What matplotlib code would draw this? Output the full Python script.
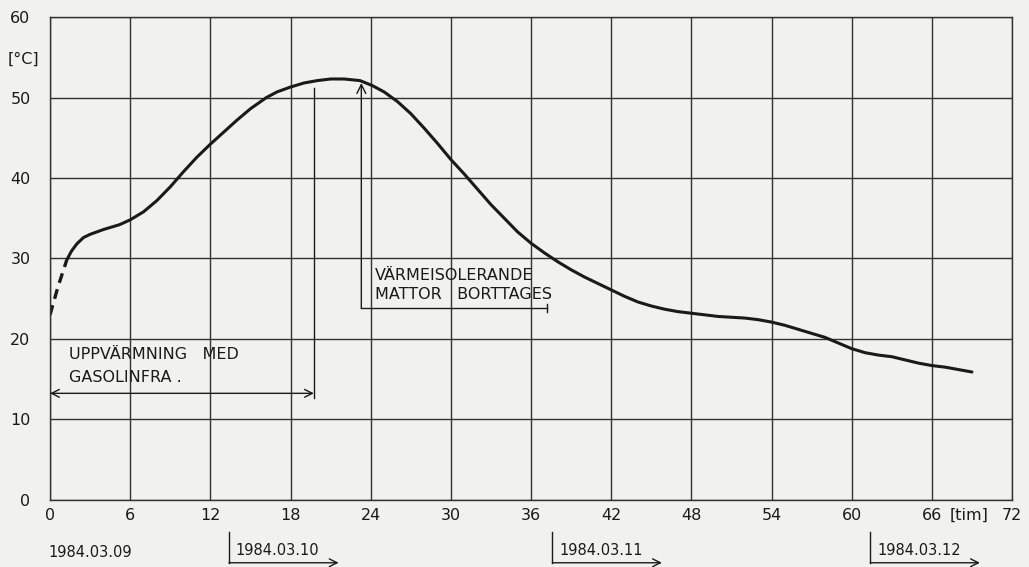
import matplotlib
matplotlib.use("Agg")
import matplotlib.pyplot as plt

# ---- data ----
dashed_hours = [0.0, 0.6, 1.25]
dashed_temp = [23.0, 26.5, 29.8]

hours = [1.25, 1.6, 2.0, 2.5, 3.0, 4.0, 5.2, 6.0, 7.0, 8.0, 9.0, 10.0, 11.0, 12.0,
         13.0, 14.0, 15.0, 16.2, 17.0, 18.0, 19.0, 20.0, 21.0, 22.0, 23.2, 24.1,
         25.0, 26.0, 27.0, 28.0, 29.0, 30.0, 31.0, 32.0, 33.0, 34.0, 35.0, 36.0,
         37.0, 38.0, 39.0, 40.0, 41.0, 42.0, 43.0, 44.0, 45.0, 46.0, 47.0, 48.0,
         49.0, 50.0, 51.0, 52.0, 53.0, 54.0, 55.0, 56.0, 57.0, 58.0, 59.0, 60.0,
         61.0, 62.0, 63.0, 64.0, 65.0, 66.0, 67.0, 68.0, 69.0]
temp = [29.8, 30.9, 31.8, 32.6, 33.0, 33.6, 34.2, 34.8, 35.8, 37.2, 38.9, 40.8, 42.6, 44.2,
        45.7, 47.2, 48.6, 50.0, 50.7, 51.3, 51.8, 52.1, 52.3, 52.3, 52.1, 51.5,
        50.7, 49.5, 48.0, 46.2, 44.3, 42.3, 40.5, 38.6, 36.7, 35.0, 33.3, 31.9,
        30.7, 29.6, 28.6, 27.7, 26.9, 26.1, 25.3, 24.6, 24.1, 23.7, 23.4, 23.2,
        23.0, 22.8, 22.7, 22.6, 22.4, 22.1, 21.7, 21.2, 20.7, 20.2, 19.5, 18.8,
        18.3, 18.0, 17.8, 17.4, 17.0, 16.7, 16.5, 16.2, 15.9]

x_ticks = list(range(0, 73, 6))
y_ticks = list(range(0, 61, 10))

date_labels = ["1984.03.10", "1984.03.11", "1984.03.12"]
date_starts = [13.4, 37.6, 61.4]
first_date = "1984.03.09"

heat_text = "UPPVÄRMNING   MED\nGASOLINFRA ."
mat_text = "VÄRMEISOLERANDE\nMATTOR   BORTTAGES"

# ---- style ----
FONT = ["DejaVu Sans Condensed", "Liberation Sans Narrow", "DejaVu Sans"]
plt.rcParams["font.family"] = FONT
BG = "#f1f1ef"
INK = "#1a1a1a"
GRID = "#333333"

fig = plt.figure(figsize=(10.29, 5.67), dpi=100, facecolor=BG)
ax = fig.add_axes([0.0486, 0.1182, 0.9349, 0.8518])
ax.set_facecolor(BG)

ax.set_xlim(0, 72)
ax.set_ylim(0, 60)
ax.set_xticks(x_ticks)
ax.set_yticks(y_ticks)
ax.grid(True, color=GRID, linewidth=1.0)
for s in ax.spines.values():
    s.set_color(GRID)
    s.set_linewidth(1.0)
ax.tick_params(length=0, labelsize=11.5, colors=INK)
ax.tick_params(axis="x", pad=6)
ax.tick_params(axis="y", pad=14)

# curve
ax.plot(dashed_hours, dashed_temp, color=INK, linewidth=2.4,
        linestyle=(0, (3, 2)), solid_capstyle="butt")
ax.plot(hours, temp, color=INK, linewidth=2.2, solid_capstyle="round",
        solid_joinstyle="round")

# units
ax.text(-2.0, 54.7, "[°C]", fontsize=11.5, color=INK, ha="center", va="center",
        clip_on=False)
ax.text(68.8, -1.9, "[tim]", fontsize=11.5, color=INK, ha="center", va="center",
        clip_on=False)

# heating annotation
heat_end = 19.75
heat_y = 13.25
ax.annotate("", xy=(0, heat_y), xytext=(heat_end, heat_y),
            arrowprops=dict(arrowstyle="<->", color=INK, lw=1.0,
                            shrinkA=0, shrinkB=0, mutation_scale=14))
ax.plot([heat_end, heat_end], [12.7, 51.2], color=INK, linewidth=1.0)
ax.text(1.4, 16.6, heat_text, fontsize=11.5, color=INK, ha="left", va="center",
        linespacing=1.65)

# mats removed annotation
mat_x = 23.3
mat_y = 23.8
ax.annotate("", xy=(mat_x, 51.8), xytext=(mat_x, mat_y),
            arrowprops=dict(arrowstyle="->", color=INK, lw=1.0,
                            shrinkA=0, shrinkB=0, mutation_scale=16))
ax.plot([mat_x, 37.2], [mat_y, mat_y], color=INK, linewidth=1.0)
ax.plot([37.2, 37.2], [mat_y - 0.5, mat_y + 0.5], color=INK, linewidth=1.0)
ax.text(24.3, 26.7, mat_text, fontsize=11.5, color=INK, ha="left", va="center",
        linespacing=1.35)

# dates
ax.text(-0.1, -6.5, first_date, fontsize=10.5, color=INK, ha="left",
        va="center", clip_on=False)
for lab, x0 in zip(date_labels, date_starts):
    ax.plot([x0, x0], [-4.0, -7.8], color=INK, linewidth=1.0, clip_on=False)
    ax.annotate("", xy=(x0 + 8.2, -7.8), xytext=(x0, -7.8),
                annotation_clip=False,
                arrowprops=dict(arrowstyle="->", color=INK, lw=1.0,
                                shrinkA=0, shrinkB=0, mutation_scale=14))
    ax.text(x0 + 0.5, -6.3, lab, fontsize=10.5, color=INK, ha="left",
            va="center", clip_on=False)

fig.savefig("out.png", dpi=100, facecolor=BG)
